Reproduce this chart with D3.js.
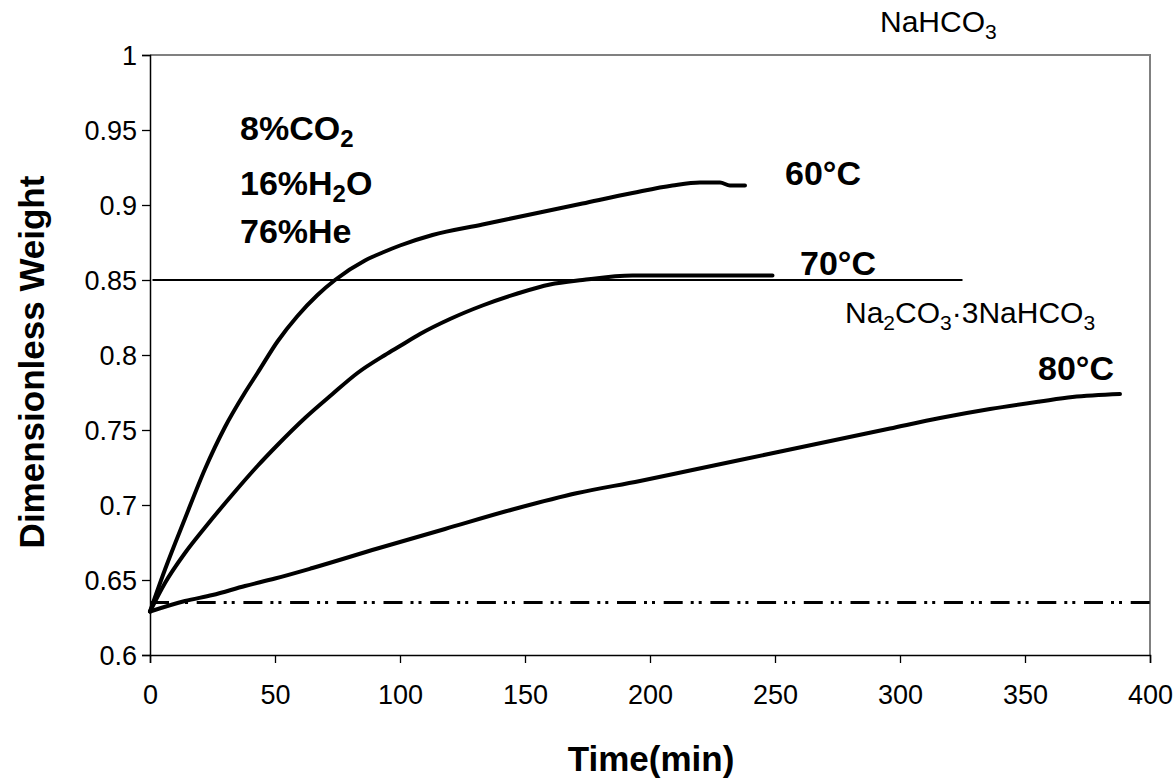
<!DOCTYPE html>
<html>
<head>
<meta charset="utf-8">
<script src="https://cdn.jsdelivr.net/npm/d3@7"></script>
<style>
  html, body { margin: 0; padding: 0; background: #fff; }
  svg { display: block; font-family: "Liberation Sans", Arial, sans-serif; }
</style>
</head>
<body>
<svg id="chart" width="1176" height="778"></svg>
<script>
// Dimensionless weight vs time for NaHCO3 conversion at three temperatures
const time60 = [0, 6, 14, 22, 30, 38, 43, 51, 59, 67, 74, 86, 94, 100, 113, 133, 153, 173, 193, 209, 220, 228, 232, 238];
const weight60 = [0.629, 0.657, 0.691, 0.724, 0.752, 0.775, 0.788, 0.809, 0.826, 0.840, 0.850, 0.863, 0.869, 0.873, 0.880, 0.887, 0.894, 0.901, 0.908, 0.913, 0.915, 0.915, 0.913, 0.913];

const time70 = [0, 6, 14, 22, 33, 43, 51, 62, 73, 83, 94, 100, 108, 120, 133, 147, 160, 173, 193, 220, 249];
const weight70 = [0.629, 0.648, 0.668, 0.685, 0.707, 0.726, 0.740, 0.758, 0.774, 0.788, 0.800, 0.806, 0.814, 0.824, 0.833, 0.841, 0.847, 0.850, 0.853, 0.853, 0.853];

const time80 = [0, 14, 25, 38, 50, 65, 91, 118, 145, 171, 196, 216, 236, 256, 276, 296, 316, 336, 356, 369, 388];
const weight80 = [0.629, 0.636, 0.640, 0.646, 0.651, 0.658, 0.671, 0.684, 0.697, 0.708, 0.716, 0.723, 0.730, 0.737, 0.744, 0.751, 0.758, 0.764, 0.769, 0.772, 0.774];

// reference levels: Na2CO3·3NaHCO3 (solid) and starting Na2CO3 (dash-dot-dot)
const levelWegscheider = 0.85;
const levelWegscheiderSpan = [1, 325];
const levelStart = 0.635;
const levelStartSpan = [0, 400];

const xTicks = [0, 50, 100, 150, 200, 250, 300, 350, 400];
const yTicks = [0.6, 0.65, 0.7, 0.75, 0.8, 0.85, 0.9, 0.95, 1];

const svg = d3.select("#chart");
const margin = { left: 150, right: 26, top: 55, bottom: 123 };
const W = 1176, H = 778;

const x = d3.scaleLinear().domain([0, 400]).range([margin.left, W - margin.right]);
const y = d3.scaleLinear().domain([0.6, 1]).range([H - margin.bottom, margin.top]);

// plot frame: grey top/right
svg.append("path")
  .attr("d", `M${x(0)},${y(1)}H${x(400)}V${y(0.6)}`)
  .attr("fill", "none").attr("stroke", "#808080").attr("stroke-width", 2);

// axes
const xAxis = d3.axisBottom(x).tickValues(xTicks).tickSize(8).tickPadding(22).tickFormat(d3.format("d"));
const yAxis = d3.axisLeft(y).tickValues(yTicks).tickSize(8).tickPadding(5).tickFormat(d => String(d));

const gx = svg.append("g").attr("transform", `translate(0,${y(0.6)})`).call(xAxis);
const gy = svg.append("g").attr("transform", `translate(${x(0)},0)`).call(yAxis);
[gx, gy].forEach(g => {
  g.select(".domain").attr("stroke", "#000").attr("stroke-width", 1.5);
  g.selectAll(".tick line").attr("stroke", "#000").attr("stroke-width", 1.3);
  g.selectAll(".tick text").attr("fill", "#000").style("font-size", "27px")
    .style("font-family", '"Liberation Sans", Arial, sans-serif');
});
gy.selectAll(".tick text").attr("dy", "0.36em");

// level lines
svg.append("line")
  .attr("x1", x(levelWegscheiderSpan[0])).attr("x2", x(levelWegscheiderSpan[1]))
  .attr("y1", y(levelWegscheider)).attr("y2", y(levelWegscheider))
  .attr("stroke", "#000").attr("stroke-width", 2);

svg.append("line")
  .attr("x1", x(levelStartSpan[0])).attr("x2", x(levelStartSpan[1]))
  .attr("y1", y(levelStart)).attr("y2", y(levelStart))
  .attr("stroke", "#000").attr("stroke-width", 2.8)
  .attr("stroke-dasharray", "19,8,3,5,3,8.7");

// curves
const line = d3.line().x(d => x(d[0])).y(d => y(d[1])).curve(d3.curveMonotoneX);
[[time60, weight60], [time70, weight70], [time80, weight80]].forEach(([t, w]) => {
  svg.append("path")
    .datum(t.map((v, i) => [v, w[i]]))
    .attr("d", line)
    .attr("fill", "none").attr("stroke", "#000")
    .attr("stroke-width", 4).attr("stroke-linejoin", "round").attr("stroke-linecap", "round");
});

// text helper: strings are plain runs, {sub} objects are subscripts
function label(xp, yp, parts, size, weight) {
  const t = svg.append("text").attr("x", xp).attr("y", yp)
    .style("font-size", size + "px").style("font-weight", weight).attr("fill", "#000");
  const shift = size * 0.22;
  let lowered = false;
  parts.forEach(p => {
    const isSub = typeof p !== "string";
    const s = t.append("tspan").text(isSub ? p.sub : p);
    if (isSub) {
      s.style("font-size", Math.round(size * 0.7) + "px");
      if (!lowered) { s.attr("dy", shift); lowered = true; }
    } else if (lowered) {
      s.attr("dy", -shift); lowered = false;
    }
  });
  return t;
}

label(240, 140, ["8%CO", { sub: "2" }], 34, "bold");
label(240, 195, ["16%H", { sub: "2" }, "O"], 34, "bold");
label(240, 243, ["76%He"], 34, "bold");

label(785, 185, ["60°C"], 34, "bold");
label(800, 275, ["70°C"], 34, "bold");
label(1038, 380, ["80°C"], 34, "bold");

label(880, 32, ["NaHCO", { sub: "3" }], 30, "normal");
label(845, 323, ["Na", { sub: "2" }, "CO", { sub: "3" }, "·3NaHCO", { sub: "3" }], 30, "normal");

// axis titles
svg.append("text").attr("x", 651).attr("y", 771).attr("text-anchor", "middle")
  .style("font-size", "35px").style("font-weight", "bold").text("Time(min)");
svg.append("text").attr("transform", "translate(44,362) rotate(-90)").attr("text-anchor", "middle")
  .style("font-size", "35px").style("font-weight", "bold").text("Dimensionless Weight");
</script>
</body>
</html>
